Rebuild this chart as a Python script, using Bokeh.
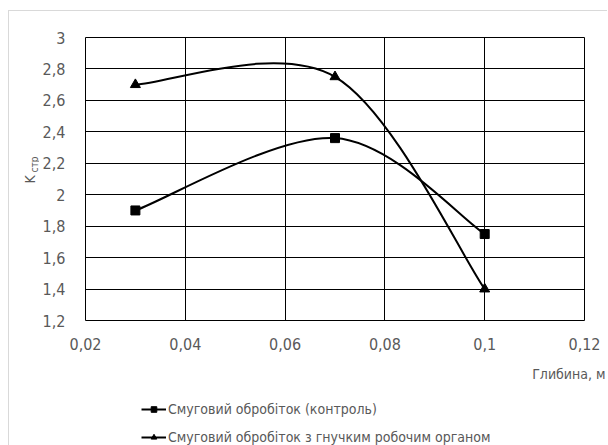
import math
from bokeh.plotting import figure
from bokeh.layouts import row, column
from bokeh.models import FixedTicker, Legend, LegendItem, Label, Range1d
from bokeh.embed import file_html
from bokeh.resources import INLINE

# ---- data ----
depth = [0.03, 0.07, 0.10]
control = [1.90, 2.36, 1.75]
flexible = [2.70, 2.75, 1.40]

x_ticks = [0.02, 0.04, 0.06, 0.08, 0.10, 0.12]
x_tick_labels = ["0,02", "0,04", "0,06", "0,08", "0,1", "0,12"]
y_ticks = [1.2, 1.4, 1.6, 1.8, 2.0, 2.2, 2.4, 2.6, 2.8, 3.0]
y_tick_labels = ["1,2", "1,4", "1,6", "1,8", "2", "2,2", "2,4", "2,6", "2,8", "3"]

series_names = ["Смуговий обробіток (контроль)",
                "Смуговий обробіток з гнучким робочим органом"]
series_markers = ["square", "triangle"]
x_title = "Глибина, м"
y_title_main = "K"
y_title_sub = "стр"

FONT = "DejaVu Sans Condensed"
TXT = "#595959"


def smooth_segments(xs, ys):
    """Catmull-Rom style Bezier segments through the points (Excel-like smoothing)."""
    n = len(xs)
    out = {k: [] for k in ("x0", "y0", "x1", "y1", "cx0", "cy0", "cx1", "cy1")}
    for i in range(n - 1):
        a = i - 1 if i > 0 else i
        d = i + 2 if i + 2 < n else i + 1
        out["x0"].append(xs[i]); out["y0"].append(ys[i])
        out["x1"].append(xs[i + 1]); out["y1"].append(ys[i + 1])
        out["cx0"].append(xs[i] + (xs[i + 1] - xs[a]) / 6)
        out["cy0"].append(ys[i] + (ys[i + 1] - ys[a]) / 6)
        out["cx1"].append(xs[i + 1] - (xs[d] - xs[i]) / 6)
        out["cy1"].append(ys[i + 1] - (ys[d] - ys[i]) / 6)
    return out


def no_align(f):
    try:
        f.frame_align = False
    except Exception:
        pass


def blank(width, height):
    f = figure(width=width, height=height, output_backend="svg", toolbar_location=None,
               x_axis_location=None, y_axis_location=None,
               x_range=Range1d(10, 11), y_range=Range1d(10, 11),
               min_border=0)
    f.xgrid.visible = False
    f.ygrid.visible = False
    f.outline_line_color = None
    f.background_fill_color = "white"
    f.border_fill_color = "white"
    no_align(f)
    return f


# ---- main chart ----
p = figure(width=568, height=341, output_backend="svg", toolbar_location=None,
           x_range=Range1d(0.02, 0.12), y_range=Range1d(1.2, 3.0),
           min_border_left=46, min_border_right=23, min_border_top=26,
           min_border_bottom=32)
no_align(p)
p.outline_line_color = "black"
p.outline_line_width = 1
p.background_fill_color = "white"
p.border_fill_color = "white"
for g in (p.xgrid, p.ygrid):
    g.grid_line_color = "black"
    g.grid_line_width = 1
p.xaxis.ticker = FixedTicker(ticks=x_ticks)
p.yaxis.ticker = FixedTicker(ticks=y_ticks)
p.xaxis.major_label_overrides = dict(zip(x_ticks, x_tick_labels))
p.yaxis.major_label_overrides = dict(zip(y_ticks, y_tick_labels))
for ax in (p.xaxis, p.yaxis):
    ax.axis_line_color = None
    ax.major_tick_line_color = None
    ax.minor_tick_line_color = None
    ax.major_label_text_font = FONT
    ax.major_label_text_font_size = "16px"
    ax.major_label_text_color = TXT
p.xaxis.major_label_standoff = 11
p.yaxis.major_label_standoff = 14

for ys, marker in zip((control, flexible), series_markers):
    seg = smooth_segments(depth, ys)
    p.bezier(source=seg, x0="x0", y0="y0", x1="x1", y1="y1",
             cx0="cx0", cy0="cy0", cx1="cx1", cy1="cy1",
             line_color="black", line_width=2)
    p.scatter(depth, ys, marker=marker, size=9 if marker == "square" else 10,
              fill_color="black", line_color="black")

# ---- bottom strip: x title and legend ----
b = blank(568, 93)
items = []
for ys, marker, name in zip((control, flexible), series_markers, series_names):
    ln = b.line(depth, ys, line_color="black", line_width=2)
    sc = b.scatter(depth, ys, marker=marker, size=8 if marker == "square" else 9,
                   fill_color="black", line_color="black")
    items.append(LegendItem(label=name, renderers=[ln, sc]))
legend = Legend(items=items, location=(102, 0), orientation="vertical",
                glyph_width=25, glyph_height=14, label_height=14,
                label_standoff=2, spacing=12, padding=0, margin=0,
                border_line_color=None, background_fill_alpha=0,
                label_text_font=FONT, label_text_font_size="14px",
                label_text_color=TXT)
b.add_layout(legend, "center")
b.add_layout(Label(x=566, y=72, x_units="screen", y_units="screen", text=x_title,
                   text_align="right", text_baseline="middle", text_font=FONT,
                   text_font_size="14px", text_color=TXT))

# ---- left strip: y title K with subscript ----
l = blank(30, 434)
l.add_layout(Label(x=20, y=262, x_units="screen", y_units="screen", text=y_title_main,
                   angle=math.pi / 2, text_align="left", text_baseline="alphabetic",
                   text_font=FONT, text_font_size="14px", text_color=TXT))
l.add_layout(Label(x=25, y=273, x_units="screen", y_units="screen", text=y_title_sub,
                   angle=math.pi / 2, text_align="left", text_baseline="alphabetic",
                   text_font=FONT, text_font_size="10px", text_color=TXT))

layout = row(l, column(p, b, spacing=0), spacing=0)
layout.margin = (10, 0, 0, 8)
layout.styles = {"border-left": "1px solid #d9d9d9", "border-top": "1px solid #d9d9d9"}

open("out.html", "w").write(file_html(layout, INLINE))
